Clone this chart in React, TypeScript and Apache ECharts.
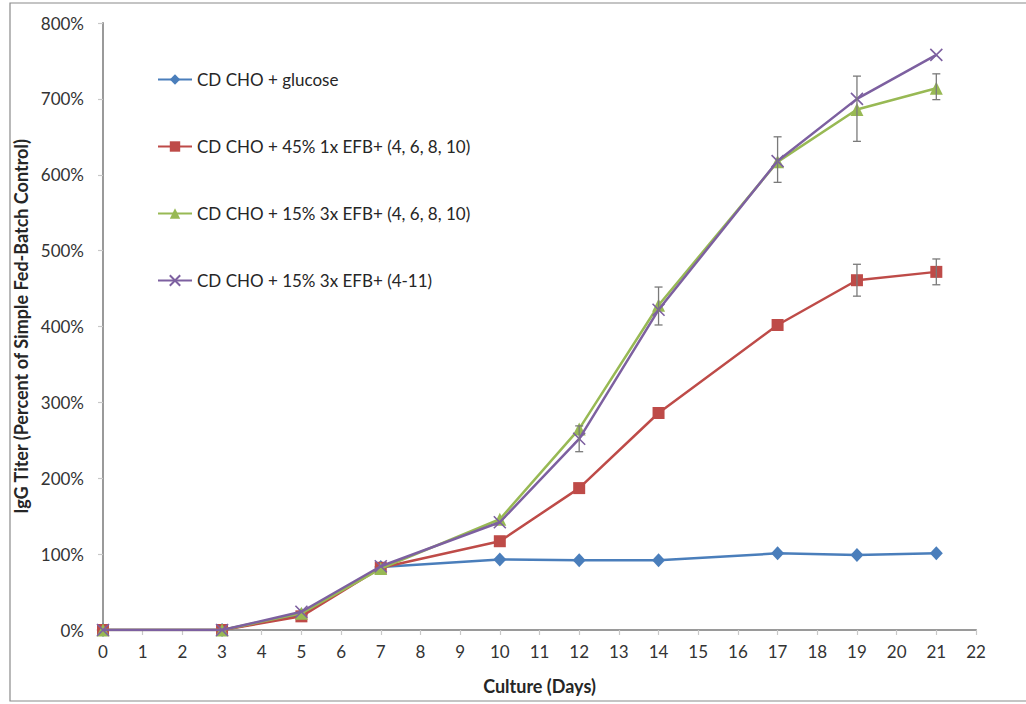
import React, { useEffect, useRef } from "react";
import * as echarts from "echarts";

const days = [0, 3, 5, 7, 10, 12, 14, 17, 19, 21];
const seriesNames = [
  "CD CHO + glucose",
  "CD CHO + 45% 1x EFB+ (4, 6, 8, 10)",
  "CD CHO + 15% 3x EFB+ (4, 6, 8, 10)",
  "CD CHO + 15% 3x EFB+ (4-11)",
];
const glucose = [0, 0, 20, 83, 93, 92, 92, 101, 99, 101];
const efb45 = [0, 0, 18, 82, 117, 187, 286, 402, 461, 472];
const efb15 = [0, 0, 22, 81, 146, 265, 428, 617, 686, 714];
const efb15all = [0, 0, 24, 84, 142, 252, 422, 618, 700, 758];
// error bars: [day, centre, half-width]
const errorBars = [
  [12, 252, 17],
  [14, 427, 25],
  [17, 620, 30],
  [19, 687, 43],
  [21, 716, 17],
  [19, 461, 21],
  [21, 472, 17],
];
const xTicks = { min: 0, max: 22, interval: 1 };
const yTicks = { min: 0, max: 800, interval: 100 };

const colors = ["#4A7EBB", "#BE4B48", "#98B954", "#7D60A0"];
const symbols = ["diamond", "rect", "triangle", "path://M0,0L10,10M10,0L0,10"];
const symbolSizes: any[] = [[13, 14], 12, 13, 12];
const FONT = "Lato, 'Noto Sans', sans-serif";

export default function App() {
  const ref = useRef<HTMLDivElement>(null);
  useEffect(() => {
    document.body.style.margin = "0";
    const chart = echarts.init(ref.current!, undefined, { renderer: "svg" });
    const allData = [glucose, efb45, efb15, efb15all];
    const lineSeries = allData.map((vals, i) => ({
      name: seriesNames[i],
      type: "line",
      data: days.map((d, j) => [d, vals[j]]),
      symbol: symbols[i],
      symbolSize: symbolSizes[i],
      showAllSymbol: true,
      lineStyle: { color: colors[i], width: 2.5 },
      itemStyle: {
        color: colors[i],
        borderColor: colors[i],
        borderWidth: i === 3 ? 1.6 : 0,
      },
      z: 3 + i,
      emphasis: { disabled: true },
    }));
    const errSeries = {
      type: "custom",
      data: errorBars,
      z: 10,
      silent: true,
      renderItem: (params: any, api: any) => {
        const x = api.value(0);
        const c = api.value(1);
        const e = api.value(2);
        const top = api.coord([x, c + e]);
        const bot = api.coord([x, c - e]);
        const w = 4;
        const style = { stroke: "#7a7a7a", lineWidth: 1.3 };
        return {
          type: "group",
          children: [
            { type: "line", shape: { x1: top[0], y1: top[1], x2: bot[0], y2: bot[1] }, style },
            { type: "line", shape: { x1: top[0] - w, y1: top[1], x2: top[0] + w, y2: top[1] }, style },
            { type: "line", shape: { x1: bot[0] - w, y1: bot[1], x2: bot[0] + w, y2: bot[1] }, style },
          ],
        };
      },
    };
    const legendTops = [71, 138, 205, 272];
    chart.setOption({
      animation: false,
      backgroundColor: "#ffffff",
      textStyle: { fontFamily: FONT },
      grid: { left: 103, right: 50, top: 23, bottom: 74 },
      legend: seriesNames.map((n, i) => ({
        data: [n],
        left: 157,
        top: legendTops[i],
        padding: 0,
        itemWidth: 34,
        itemHeight: 13,
        selectedMode: false,
        textStyle: { fontSize: 17, color: "#262626", fontFamily: FONT },
      })),
      graphic: [
        {
          type: "rect",
          shape: { x: 10, y: 3, width: 1040, height: 698 },
          style: { fill: "none", stroke: "#8a8a8a", lineWidth: 1.2 },
          silent: true,
        },
      ],
      xAxis: [
        {
          type: "value",
          ...xTicks,
          name: "Culture (Days)",
          nameLocation: "middle",
          nameGap: 47,
          nameTextStyle: { fontSize: 18, fontWeight: "bold", color: "#262626" },
          axisLine: { show: true, lineStyle: { color: "#c8c8c8", width: 1.5 } },
          axisTick: { show: true, length: 5, lineStyle: { color: "#c8c8c8", width: 1.2 } },
          axisLabel: { fontSize: 17, color: "#333", margin: 13 },
          splitLine: { show: false },
        },
        {
          type: "value",
          ...xTicks,
          position: "top",
          axisLine: { show: true, lineStyle: { color: "#9a9a9a", width: 2 } },
          axisTick: { show: false },
          axisLabel: { show: false },
          splitLine: { show: false },
        },
      ],
      yAxis: [
        {
          type: "value",
          ...yTicks,
          name: "IgG Titer (Percent of Simple Fed-Batch Control)",
          nameLocation: "middle",
          nameGap: 62,
          nameTextStyle: { fontSize: 18, fontWeight: "bold", color: "#262626" },
          axisLine: { show: true, lineStyle: { color: "#c8c8c8", width: 1.5 } },
          axisTick: { show: true, length: 5, lineStyle: { color: "#c8c8c8", width: 1.2 } },
          axisLabel: { fontSize: 17, color: "#333", margin: 19, formatter: "{value}%" },
          splitLine: { show: false },
        },
        {
          type: "value",
          ...yTicks,
          position: "right",
          axisLine: { show: true, lineStyle: { color: "#9a9a9a", width: 2 } },
          axisTick: { show: false },
          axisLabel: { show: false },
          splitLine: { show: false },
        },
      ],
      series: [...lineSeries, errSeries],
    });
    return () => chart.dispose();
  }, []);
  return <div ref={ref} style={{ width: 1026, height: 704 }} />;
}
